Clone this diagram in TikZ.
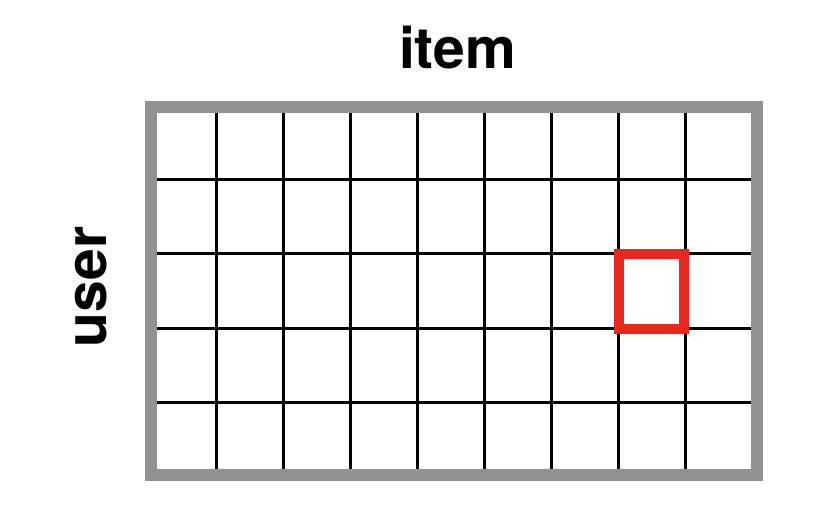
\documentclass[tikz,border=0pt]{standalone}
\usepackage{fontspec}
\setmainfont{TeX Gyre Heros}
\definecolor{framegray}{HTML}{929292}
\definecolor{cellred}{HTML}{E8271F}
\begin{document}
\begin{tikzpicture}[x=1pt,y=-1pt,
  gridline/.style={line width=3pt,black},
  frameline/.style={line width=12pt,framegray},
  hiline/.style={line width=10pt,cellred},
  lbl/.style={font=\fontsize{57}{62}\selectfont\bfseries,inner sep=0pt}]
\useasboundingbox (0,0) rectangle (820,512);
\foreach \x in {216.3,283.4,350.4,417.5,484.5,551.6,618.5,685.7}
  \draw[gridline] (\x,107) -- (\x,475);
\foreach \y in {179.3,253.3,328.3,402.3}
  \draw[gridline] (151,\y) -- (757,\y);
\draw[frameline] (151,107) rectangle (757,475);
\draw[hiline] (619,254) rectangle (684,329);
\node[lbl,anchor=base] (item) at (457.5,68) {item};
\node[lbl,anchor=base,rotate=90] (user) at (106,287) {user};
\end{tikzpicture}
\end{document}
